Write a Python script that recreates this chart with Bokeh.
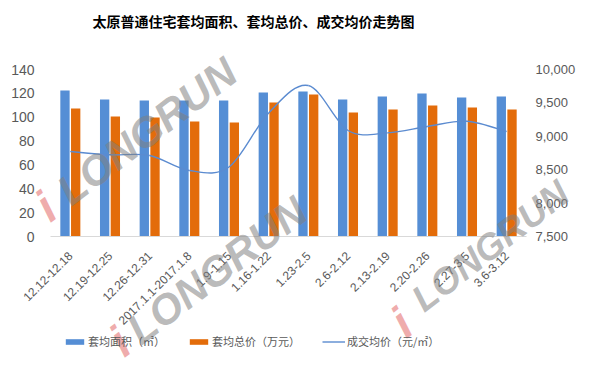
import math
from bokeh.plotting import figure
from bokeh.models import (Range1d, LinearAxis, FixedTicker, NumeralTickFormatter,
                          Legend, LegendItem, Label, ColumnDataSource)
from bokeh.transform import dodge
from bokeh.embed import file_html
from bokeh.resources import INLINE

# ---------------- data ----------------
categories = ["12.12-12.18", "12.19-12.25", "12.26-12.31", "2017.1.1-2017.1.8",
              "1.9-1.15", "1.16-1.22", "1.23-2.5", "2.6-2.12", "2.13-2.19",
              "2.20-2.26", "2.27-3.5", "3.6-3.12"]
area = [122.5, 114.8, 114.0, 114.0, 114.0, 120.7, 121.5, 114.8, 117.4, 119.9, 116.5, 117.4]
total = [107.3, 100.6, 99.7, 96.4, 95.6, 112.3, 119.0, 104.0, 106.5, 109.8, 108.1, 106.5]
price = [8772, 8723, 8713, 8488, 8540, 9350, 9760, 9087, 9052, 9147, 9226, 9072]
left_ticks = [0, 20, 40, 60, 80, 100, 120, 140]
right_ticks = [7500, 8000, 8500, 9000, 9500, 10000]

title_text = "太原普通住宅套均面积、套均总价、成交均价走势图"
series_names = ["套均面积（㎡）", "套均总价（万元）", "成交均价（元/㎡）"]

BLUE = "#558ED5"
ORANGE = "#E36C0A"
LINE = "#5B8BD0"
GREY_TXT = "#595959"

# ---------------- layout (canvas pixels, y down) ----------------
W, H = 577, 367
FL, FT, FR, FB = 50, 69, 526, 236   # plot box inside the canvas
ncat = len(categories)
ppx = (FR - FL) / ncat
x_start, x_end = -FL / ppx, ncat + (W - FR) / ppx
ppy = (FB - FT) / (left_ticks[-1] - left_ticks[0])
y_start = left_ticks[0] - (H - FB) / ppy
y_end = left_ticks[-1] + FT / ppy
ppp = (FB - FT) / (right_ticks[-1] - right_ticks[0])
p_start = right_ticks[0] - (H - FB) / ppp
p_end = right_ticks[-1] + FT / ppp

xs = [i + 0.5 for i in range(ncat)]
src = ColumnDataSource(dict(x=xs, area=area, total=total))

p = figure(width=W, height=H, output_backend="svg", toolbar_location=None,
           title=None, x_range=Range1d(x_start, x_end), y_range=Range1d(y_start, y_end),
           min_border=0)
p.extra_y_ranges = {"price": Range1d(p_start, p_end)}
p.outline_line_color = None
p.xgrid.visible = False
p.ygrid.visible = False
p.background_fill_color = "white"
p.border_fill_color = "white"

# bars
r1 = p.vbar(x=dodge("x", -0.135, range=p.x_range), top="area", width=0.235,
            source=src, fill_color=BLUE, line_color=None)
r2 = p.vbar(x=dodge("x", 0.135, range=p.x_range), top="total", width=0.235,
            source=src, fill_color=ORANGE, line_color=None)

# smoothed price line (Catmull-Rom as cubic Bezier segments)
n = len(price)
PX = [xs[0]] + xs + [xs[-1]]
PY = [price[0]] + price + [price[-1]]
bz = dict(x0=[], y0=[], x1=[], y1=[], cx0=[], cy0=[], cx1=[], cy1=[])
for i in range(n - 1):
    j = i + 1
    bz["x0"].append(PX[j]); bz["y0"].append(PY[j])
    bz["x1"].append(PX[j + 1]); bz["y1"].append(PY[j + 1])
    bz["cx0"].append(PX[j] + (PX[j + 1] - PX[j - 1]) / 6)
    bz["cy0"].append(PY[j] + (PY[j + 1] - PY[j - 1]) / 6)
    bz["cx1"].append(PX[j + 1] - (PX[j + 2] - PX[j]) / 6)
    bz["cy1"].append(PY[j + 1] - (PY[j + 2] - PY[j]) / 6)
r3 = p.bezier(x0="x0", y0="y0", x1="x1", y1="y1", cx0="cx0", cy0="cy0",
              cx1="cx1", cy1="cy1", source=ColumnDataSource(bz),
              line_color=LINE, line_width=1.4, y_range_name="price")

# axes
xa = p.xaxis[0]
xa.fixed_location = left_ticks[0]
xa.bounds = (0, ncat)
xa.ticker = FixedTicker(ticks=xs)
xa.major_label_overrides = {x: c for x, c in zip(xs, categories)}
xa.major_label_orientation = math.pi / 4
xa.axis_line_color = "#d9d9d9"
xa.major_tick_line_color = None
xa.minor_tick_line_color = None
xa.major_label_text_font = "Liberation Sans"
xa.major_label_text_font_size = "12px"
xa.major_label_text_color = GREY_TXT
xa.major_label_standoff = 11

ya = p.yaxis[0]
ya.fixed_location = 0
ya.ticker = FixedTicker(ticks=left_ticks)
ya.axis_line_color = None
ya.major_tick_line_color = None
ya.minor_tick_line_color = None
ya.major_label_text_font = "Liberation Sans"
ya.major_label_text_font_size = "14px"
ya.major_label_text_color = GREY_TXT
ya.major_label_standoff = 10

ra = LinearAxis(y_range_name="price", ticker=FixedTicker(ticks=right_ticks),
                formatter=NumeralTickFormatter(format="0,0"), fixed_location=ncat)
ra.axis_line_color = None
ra.major_tick_line_color = None
ra.minor_tick_line_color = None
ra.major_label_text_font = "Liberation Sans"
ra.major_label_text_font_size = "13px"
ra.major_label_text_color = GREY_TXT
ra.major_label_standoff = 3
p.add_layout(ra, "right")

# title (screen units: x from left, y up from the canvas bottom)
p.add_layout(Label(x=92, y=H - 20, x_units="screen", y_units="screen", text=title_text,
                   text_font="Noto Sans CJK SC", text_font_size="14px",
                   text_font_style="bold", text_color="black", text_baseline="middle"))

# watermarks: (text x, text y, i x, i y, angle, size) in canvas pixels (y down)
wm = [(62, 195, 40, 210, 0.65, 42), (132, 334, 114, 345, 0.65, 42),
      (416, 303, 396, 326, 0.66, 37)]
for tx, ty, ix, iy, ang, fs in wm:
    p.add_layout(Label(x=tx, y=H - ty, x_units="screen", y_units="screen", text="LONGRUN",
                       angle=ang, text_font="Liberation Sans", text_font_style="bold italic",
                       text_font_size=f"{fs}px", text_color="#808080", text_alpha=0.55,
                       text_baseline="alphabetic"))
    p.add_layout(Label(x=ix, y=H - iy, x_units="screen", y_units="screen", text="i",
                       angle=ang, text_font="Liberation Sans", text_font_style="bold italic",
                       text_font_size="46px", text_color="#e05a5a", text_alpha=0.5,
                       text_baseline="alphabetic"))

# legend
legend = Legend(items=[LegendItem(label=series_names[0], renderers=[r1]),
                       LegendItem(label=series_names[1], renderers=[r2]),
                       LegendItem(label=series_names[2], renderers=[r3])],
                location=(63, 18), orientation="horizontal",
                glyph_width=23, glyph_height=7, label_standoff=2, spacing=22,
                padding=0, margin=0, border_line_color=None,
                background_fill_alpha=0, label_text_font="Noto Sans CJK SC",
                label_text_font_size="11px", label_text_color=GREY_TXT,
                label_height=14)
p.add_layout(legend)

open("out.html", "w").write(file_html(p, INLINE))
